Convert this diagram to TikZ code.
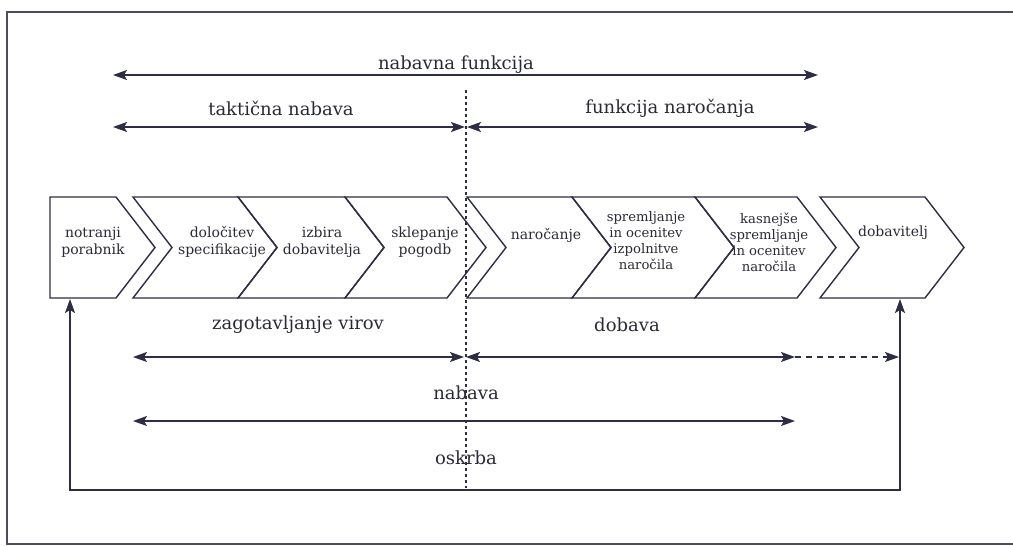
\documentclass[tikz,border=0pt]{standalone}
\usepackage{fontspec}
\setmainfont{DejaVu Serif}
\usetikzlibrary{arrows.meta}
\definecolor{ink}{RGB}{45,45,68}
\definecolor{txt}{RGB}{42,42,54}
\begin{document}
\begin{tikzpicture}[x=1pt,y=-1pt,
  shapeline/.style={draw=ink,line width=1.4pt,line join=miter},
  conn/.style={draw=ink,line width=1.4pt},
  tipstyle/.style={{Stealth[length=14pt,width=10pt,inset=3pt]}-{Stealth[length=14pt,width=10pt,inset=3pt]}},
  ptext/.style={text=txt,font=\fontsize{14}{17}\selectfont,align=center,inner sep=0pt},
  ptextsmall/.style={ptext,font=\fontsize{13.2}{16}\selectfont},
  lab/.style={text=txt,font=\fontsize{18}{21}\selectfont,inner sep=0pt},
  framestyle/.style={draw=ink!85,line width=1.3pt}
]
\useasboundingbox (0,0) rectangle (1013,546);
% frame
\draw[framestyle] (1016,12) -- (7,12) -- (7,544) -- (1016,544);

% chevrons
\newcommand{\chevshape}[2]{%
  \draw[shapeline] (#1,197) -- (#2,197) -- (#2+39,247.5) -- (#2,298) -- (#1,298) -- (#1+39,247.5) -- cycle;}
\draw[shapeline] (50,197) -- (116,197) -- (155,247.5) -- (116,298) -- (50,298) -- cycle;
\chevshape{133}{238}
\chevshape{238}{345}
\chevshape{345}{447}
\chevshape{467}{572}
\chevshape{572}{695}
\chevshape{695}{797}
\chevshape{820}{925}

% texts in chevrons
\node[ptext] (t1) at (93,242) {notranji\\porabnik};
\node[ptext] (t2) at (222,242) {določitev\\specifikacije};
\node[ptext] (t3) at (322,242) {izbira\\dobavitelja};
\node[ptext] (t4) at (425,242) {sklepanje\\pogodb};
\node[ptext] (t5) at (546,235) {naročanje};
\node[ptextsmall] (t6) at (646,241) {spremljanje\\in ocenitev\\izpolnitve\\naročila};
\node[ptextsmall] (t7) at (769,242) {kasnejše\\spremljanje\\in ocenitev\\naročila};
\node[ptext] (t8) at (893,233) {dobavitelj};

% labels
\node[lab] (lnf) at (456,65) {nabavna funkcija};
\node[lab] (ltn) at (281,108) {taktična nabava};
\node[lab] (lfn) at (670,108) {funkcija naročanja};
\node[lab] (lzv) at (298,325) {zagotavljanje virov};
\node[lab] (ldo) at (627,325) {dobava};
\node[lab] (lna) at (466,393) {nabava};
\node[lab] (los) at (466,458) {oskrba};

% coordinates
\coordinate (a1) at (113,75);
\coordinate (a2) at (818,75);
\coordinate (b1) at (113,127);
\coordinate (b2) at (465,127);
\coordinate (b3) at (467,127);
\coordinate (b4) at (818,127);
\coordinate (c1) at (133,357);
\coordinate (c2) at (464,357);
\coordinate (c3) at (466,357);
\coordinate (c4) at (795,357);
\coordinate (c5) at (899,357);
\coordinate (d1) at (133,421);
\coordinate (d2) at (795,421);
\coordinate (fL) at (70,299);
\coordinate (fR) at (900,299);
\coordinate (fB) at (70,490);
\coordinate (dotT) at (466,90);
\coordinate (dotB) at (466,488);

% dotted divider
\draw[draw=ink,line width=1.4pt,dash pattern=on 2.5pt off 3.5pt] (dotT) -- (dotB);

% arrows
\draw[conn,tipstyle] (a1) -- (a2);
\draw[conn,tipstyle] (b1) -- (b2);
\draw[conn,tipstyle] (b3) -- (b4);
\draw[conn,tipstyle] (c1) -- (c2);
\draw[conn,tipstyle] (c3) -- (c4);
\draw[conn,dash pattern=on 6pt off 5pt,-{Stealth[length=14pt,width=10pt,inset=3pt]}] (c4) -- (c5);
\draw[conn,tipstyle] (d1) -- (d2);
\draw[conn,tipstyle] (fL) -- (fB) -| (fR);
\end{tikzpicture}
\end{document}
